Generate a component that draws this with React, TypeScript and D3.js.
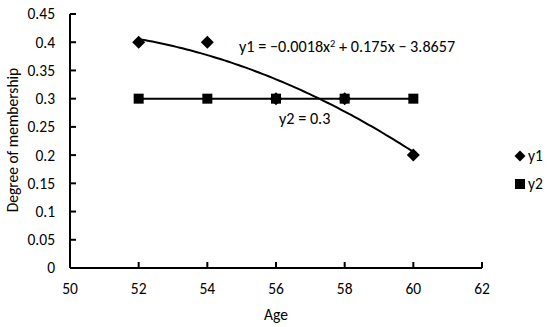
import React from "react";
import * as d3 from "d3";

const ages = [52, 54, 56, 58, 60];
const y1Values = [0.4, 0.4, 0.3, 0.3, 0.2];
const y2Values = [0.3, 0.3, 0.3, 0.3, 0.3];
const xTicks = [50, 52, 54, 56, 58, 60, 62];
const yTicks = [0, 0.05, 0.1, 0.15, 0.2, 0.25, 0.3, 0.35, 0.4, 0.45];
const eq1 = "y1 = \u22120.0018x";
const eq1b = " + 0.175x \u2212 3.8657";
const eq2 = "y2 = 0.3";

function polyfit2(xs: number[], ys: number[]) {
  const n = xs.length;
  const s = [0, 0, 0, 0, 0];
  const t = [0, 0, 0];
  for (let i = 0; i < n; i++) {
    const xv = xs[i];
    for (let k = 0; k < 5; k++) s[k] += Math.pow(xv, k);
    for (let k = 0; k < 3; k++) t[k] += Math.pow(xv, k) * ys[i];
  }
  const A = [
    [s[0], s[1], s[2], t[0]],
    [s[1], s[2], s[3], t[1]],
    [s[2], s[3], s[4], t[2]],
  ];
  for (let i = 0; i < 3; i++) {
    for (let j = i + 1; j < 3; j++) {
      const f = A[j][i] / A[i][i];
      for (let k = i; k < 4; k++) A[j][k] -= f * A[i][k];
    }
  }
  const c = [0, 0, 0];
  for (let i = 2; i >= 0; i--) {
    let v = A[i][3];
    for (let k = i + 1; k < 3; k++) v -= A[i][k] * c[k];
    c[i] = v / A[i][i];
  }
  return (xv: number) => c[0] + c[1] * xv + c[2] * xv * xv;
}

export default function App() {
  const W = 550, H = 327;
  const x = d3.scaleLinear().domain([50, 62]).range([70, 482]);
  const y = d3.scaleLinear().domain([0, 0.45]).range([268, 14]);
  const fit = polyfit2(ages, y1Values);
  const xs = d3.range(52, 60.001, 0.1);
  const curve = d3.line<number>().x((d) => x(d)).y((d) => y(fit(d)))(xs) || "";
  const font = "Carlito, 'Open Sans', 'Liberation Sans', sans-serif";
  const fs = 15.5;
  const ds = 6.5;
  const diamond = (cx: number, cy: number, s: number) =>
    `M${cx},${cy - s}L${cx + s},${cy}L${cx},${cy + s}L${cx - s},${cy}Z`;
  return (
    <svg width={W} height={H} style={{ position: "absolute", left: 0, top: 0, background: "#fff" }} fontFamily={font}>
      <rect width={W} height={H} fill="#fff" />
      <line x1={x(50)} x2={x(62)} y1={y(0)} y2={y(0)} stroke="#000" strokeWidth={2} />
      <line x1={x(50)} x2={x(50)} y1={y(0)} y2={y(0.45)} stroke="#000" strokeWidth={2} />
      {yTicks.map((t) => (
        <g key={t}>
          <line x1={x(50)} x2={x(50) + 6} y1={y(t)} y2={y(t)} stroke="#000" strokeWidth={2} />
          <text x={55} y={y(t)} dy="0.35em" textAnchor="end" fontSize={fs}>{t}</text>
        </g>
      ))}
      {xTicks.map((t) => (
        <g key={t}>
          <line x1={x(t)} x2={x(t)} y1={y(0)} y2={y(0) - 6} stroke="#000" strokeWidth={2} />
          <text x={x(t)} y={289} dy="0.35em" textAnchor="middle" fontSize={fs}>{t}</text>
        </g>
      ))}
      <text x={(x(50) + x(62)) / 2} y={315} dy="0.35em" textAnchor="middle" fontSize={fs}>Age</text>
      <text transform={`translate(13,${140}) rotate(-90)`} dy="0.35em" textAnchor="middle" fontSize={fs}>Degree of membership</text>
      <path d={curve} fill="none" stroke="#000" strokeWidth={2} />
      <line x1={x(52)} x2={x(60)} y1={y(0.3)} y2={y(0.3)} stroke="#000" strokeWidth={2} />
      {ages.map((a, i) => (
        <path key={"d" + a} d={diamond(x(a), y(y1Values[i]), ds)} fill="#000" />
      ))}
      {ages.map((a, i) => (
        <rect key={"s" + a} x={x(a) - 5} y={y(y2Values[i]) - 5} width={10} height={10} fill="#000" />
      ))}
      <text x={239} y={52} fontSize={16.2}>
        {eq1}
        <tspan dy={-5} fontSize={10.5}>2</tspan>
        <tspan dy={5}>{eq1b}</tspan>
      </text>
      <text x={279} y={124} fontSize={16.2}>{eq2}</text>
      <path d={diamond(520, 156, 5.5)} fill="#000" />
      <text x={528} y={156} dy="0.35em" fontSize={fs}>y1</text>
      <rect x={515} y={179} width={10} height={10} fill="#000" />
      <text x={528} y={184} dy="0.35em" fontSize={fs}>y2</text>
    </svg>
  );
}
